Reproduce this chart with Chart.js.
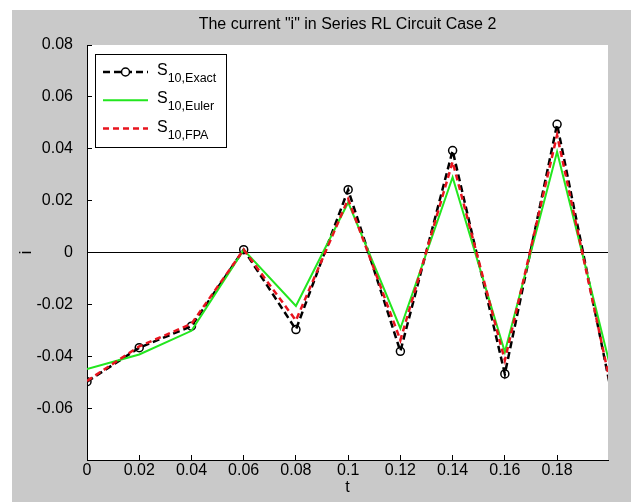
<!DOCTYPE html>
<html>
<head>
<meta charset="utf-8">
<script src="https://cdn.jsdelivr.net/npm/chart.js@4/dist/chart.umd.min.js"></script>
<style>
  html, body { margin: 0; padding: 0; background: #ffffff; }
  body { width: 631px; height: 502px; position: relative; overflow: hidden; }
  #frame { position: absolute; left: 12px; top: 10px; width: 619px; height: 492px; background: #c9c9c9; }
  #frame canvas { display: block; }
</style>
</head>
<body>
<div id="frame"><canvas id="plot"></canvas></div>
<script>
// Sample times (s)
const t = [0, 0.02, 0.04, 0.06, 0.08, 0.10, 0.12, 0.14, 0.16, 0.18, 0.20];
// Current i for the three schemes
const exact = [-0.0498, -0.0367, -0.0284, 0.0011, -0.0297, 0.0242, -0.0381, 0.0393, -0.0468, 0.0494, -0.0500];
const euler = [-0.0449, -0.0393, -0.0302, 0.0010, -0.0206, 0.0193, -0.0293, 0.0290, -0.0384, 0.0388, -0.0425];
const fpa   = [-0.0495, -0.0362, -0.0275, 0.0011, -0.0262, 0.0206, -0.0338, 0.0350, -0.0416, 0.0453, -0.0487];

// Legend text: base symbol and subscripts
const seriesBase = 'S';
const seriesSub = ['10,Exact', '10,Euler', '10,FPA'];

// Axis ticks
const xTicks = [0, 0.02, 0.04, 0.06, 0.08, 0.1, 0.12, 0.14, 0.16, 0.18];
const yTicks = [-0.06, -0.04, -0.02, 0, 0.02, 0.04, 0.06, 0.08];

const titleText = 'The current "i" in Series RL Circuit Case 2';
const xMin = 0, xMax = 0.1995, yMin = -0.08, yMax = 0.08;

const FONT = "'Liberation Sans', Arial, Helvetica, sans-serif";
Chart.defaults.font.family = FONT;
Chart.defaults.color = '#000';

const toPts = arr => t.map((x, i) => ({ x: x, y: arr[i] }));

const plotBackground = {
  id: 'plotBackground',
  beforeDraw(chart) {
    const { ctx, chartArea: a } = chart;
    ctx.save();
    ctx.fillStyle = '#ffffff';
    ctx.fillRect(a.left, a.top, a.right - a.left, a.bottom - a.top);
    ctx.restore();
  }
};

const plotTitle = {
  id: 'plotTitle',
  afterDraw(chart) {
    const { ctx, chartArea: a } = chart;
    ctx.save();
    ctx.font = '16px ' + FONT;
    ctx.fillStyle = '#000';
    ctx.textAlign = 'center';
    ctx.textBaseline = 'middle';
    ctx.fillText(titleText, (a.left + a.right) / 2, 15);
    ctx.restore();
  }
};

// Boxed legend with subscripted series names
const subLegend = {
  id: 'subLegend',
  afterDatasetsDraw(chart) {
    const { ctx, chartArea: a } = chart;
    const bx = a.left + 8, by = a.top + 9, bw = 131, bh = 93;
    ctx.save();
    ctx.fillStyle = '#fff';
    ctx.fillRect(bx, by, bw, bh);
    ctx.strokeStyle = '#000';
    ctx.lineWidth = 1;
    ctx.setLineDash([]);
    ctx.strokeRect(bx + 0.5, by + 0.5, bw, bh);
    chart.data.datasets.forEach((ds, i) => {
      const y = by + 18 + i * 28.3;
      const x0 = bx + 8, x1 = bx + 53;
      ctx.strokeStyle = ds.borderColor;
      ctx.lineWidth = ds.borderWidth;
      ctx.setLineDash(ds.borderDash || []);
      ctx.beginPath();
      ctx.moveTo(x0, y);
      ctx.lineTo(x1, y);
      ctx.stroke();
      ctx.setLineDash([]);
      if (ds.legendMarker) {
        ctx.fillStyle = '#fff';
        ctx.lineWidth = 1.5;
        ctx.strokeStyle = ds.pointBorderColor;
        ctx.beginPath();
        ctx.arc((x0 + x1) / 2, y, 4, 0, Math.PI * 2);
        ctx.fill();
        ctx.stroke();
      }
      ctx.fillStyle = '#000';
      ctx.textAlign = 'left';
      ctx.textBaseline = 'alphabetic';
      ctx.font = '16px ' + FONT;
      const sx = x1 + 9;
      ctx.fillText(seriesBase, sx, y + 3);
      const w = ctx.measureText(seriesBase).width;
      ctx.font = '12.5px ' + FONT;
      ctx.fillText(seriesSub[i], sx + w, y + 10);
    });
    ctx.restore();
  }
};

const markerRadius = ctx => (ctx.raw && ctx.raw.x > xMax ? 0 : 4);

new Chart(document.getElementById('plot'), {
  type: 'line',
  data: {
    datasets: [
      {
        label: seriesBase + seriesSub[0],
        data: toPts(exact),
        borderColor: '#000000',
        borderWidth: 2.5,
        borderDash: [7, 4],
        pointRadius: markerRadius,
        pointStyle: 'circle',
        pointBorderColor: '#000000',
        pointBackgroundColor: 'rgba(0,0,0,0)',
        pointBorderWidth: 1.5,
        legendMarker: true,
        order: 3,
        tension: 0
      },
      {
        label: seriesBase + seriesSub[1],
        data: toPts(euler),
        borderColor: '#22e61e',
        borderWidth: 2,
        pointRadius: 0,
        order: 2,
        tension: 0
      },
      {
        label: seriesBase + seriesSub[2],
        data: toPts(fpa),
        borderColor: '#e8141e',
        borderWidth: 2.5,
        borderDash: [6, 4],
        pointRadius: 0,
        order: 1,
        tension: 0
      }
    ]
  },
  options: {
    responsive: true,
    maintainAspectRatio: false,
    animation: false,
    events: [],
    layout: { padding: { left: 0, right: 23, top: 35, bottom: 0 } },
    plugins: {
      legend: { display: false },
      tooltip: { enabled: false },
      title: { display: false }
    },
    scales: {
      x: {
        type: 'linear',
        position: 'bottom',
        min: xMin,
        max: xMax,
        afterBuildTicks: s => { s.ticks = xTicks.map(v => ({ value: v })); },
        afterFit: s => { s.height = 42; },
        ticks: {
          font: { size: 16 },
          color: '#000',
          padding: 6,
          maxRotation: 0,
          callback: v => String(v)
        },
        grid: { drawOnChartArea: false, tickLength: -5, tickColor: '#000', color: '#000' },
        border: { display: true, color: '#000', width: 1 },
        title: { display: true, text: 't', font: { size: 16 }, color: '#000', padding: { top: 0, bottom: 5 } }
      },
      y: {
        type: 'linear',
        position: 'left',
        min: yMin,
        max: yMax,
        afterBuildTicks: s => { s.ticks = yTicks.map(v => ({ value: v })); },
        afterFit: s => { s.width = 75; },
        ticks: {
          font: { size: 16 },
          color: '#000',
          padding: 19,
          callback: v => String(v)
        },
        grid: {
          drawOnChartArea: true,
          tickLength: -5,
          tickColor: '#000',
          lineWidth: 1,
          color: c => (c.tick && c.tick.value === 0 ? '#000' : 'rgba(0,0,0,0)')
        },
        border: { display: true, color: '#000', width: 1 },
        title: { display: true, text: 'i', font: { size: 16 }, color: '#000', padding: { top: 5, bottom: 0 } }
      }
    }
  },
  plugins: [plotBackground, plotTitle, subLegend]
});
</script>
</body>
</html>
